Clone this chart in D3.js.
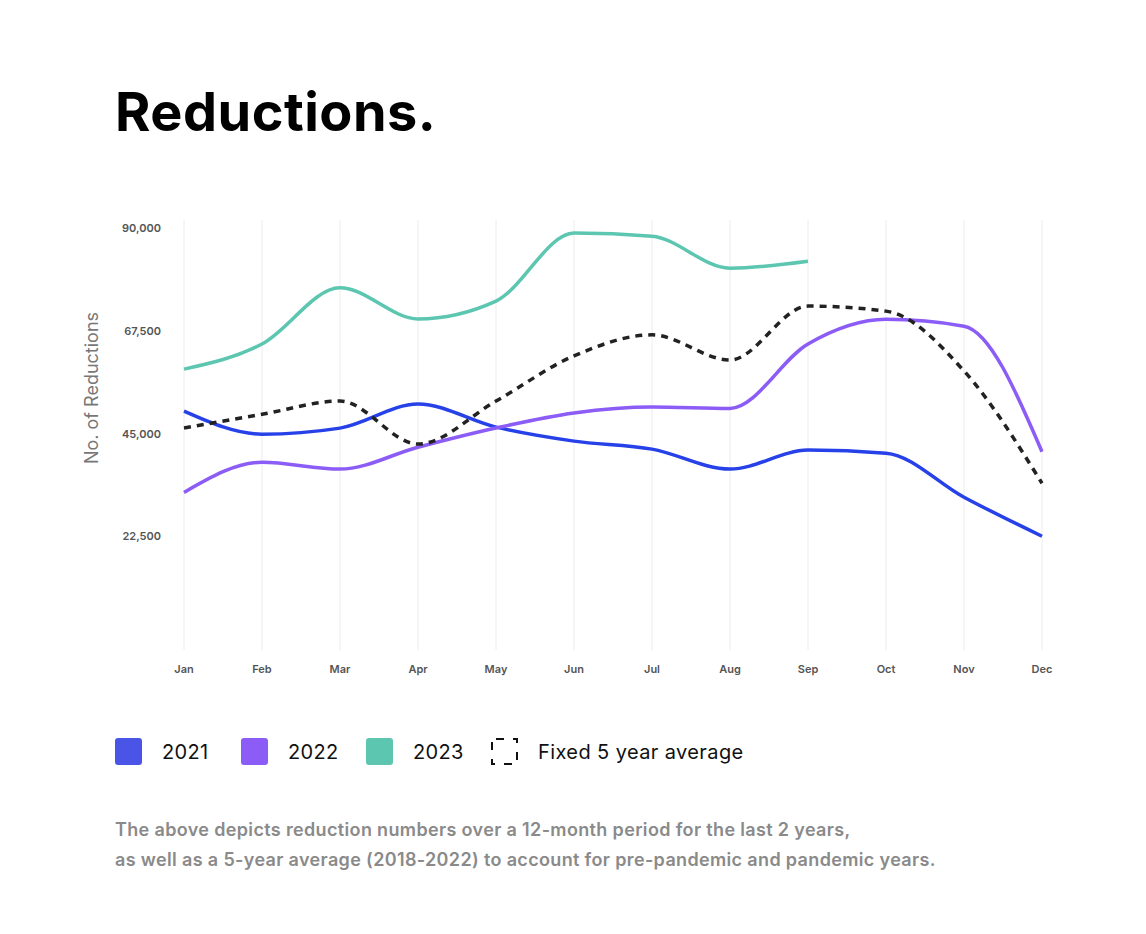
<!DOCTYPE html>
<html><head><meta charset="utf-8">
<script src="https://cdn.jsdelivr.net/npm/d3@7"></script>
<style>body{margin:0;background:#fff;font-family:Inter,"Noto Sans",sans-serif}</style>
</head><body><svg id="c" width="1146" height="934"></svg>
<script>
const months=["Jan","Feb","Mar","Apr","May","Jun","Jul","Aug","Sep","Oct","Nov","Dec"];
const yTicks=[22500,45000,67500,90000];
const s2021=[49900,44860,46180,51440,46400,43330,41580,37200,41360,40700,31050,22500];
const s2022=[32100,38700,37200,42000,46200,49500,50800,50500,64600,70000,68500,41000];
const s2023=[59100,64600,76900,70100,74000,88900,88200,81200,82700];
const sAvg=[46200,49200,52100,42700,52100,62000,66600,61100,72900,71800,58700,34100];
const svg=d3.select("#c");
const x=d3.scalePoint().domain(months).range([184,1042]);
const y=d3.scaleLinear().domain([0,90000]).range([639,228]);
svg.append("text").attr("x",115).attr("y",131).attr("font-size",54).attr("font-weight",700).attr("fill","#000").attr("letter-spacing",0.5).text("Reductions.");
svg.append("g").selectAll("line").data(months).join("line").attr("x1",d=>x(d)).attr("x2",d=>x(d)).attr("y1",220).attr("y2",650).attr("stroke","#ececec");
svg.append("g").selectAll("text").data(months).join("text").attr("x",d=>x(d)).attr("y",673).attr("text-anchor","middle").attr("font-size",11).attr("font-weight",600).attr("fill","#555").text(d=>d);
svg.append("g").selectAll("text").data(yTicks).join("text").attr("x",161).attr("y",d=>y(d)+4).attr("text-anchor","end").attr("font-size",11).attr("font-weight",600).attr("fill","#555").text(d3.format(","));
svg.append("text").attr("transform","translate(98,388) rotate(-90)").attr("text-anchor","middle").attr("font-size",18).attr("fill","#777").text("No. of Reductions");
const line=d3.line().x((d,i)=>x(months[i])).y(d=>y(d)).curve(d3.curveMonotoneX);
[[s2021,"#2641e8",null],[s2022,"#8b5cf6",null],[s2023,"#5cc6b0",null],[sAvg,"#222","7,6"]].forEach(([d,c,da])=>{
 svg.append("path").attr("d",line(d)).attr("fill","none").attr("stroke",c).attr("stroke-width",3.5).attr("stroke-dasharray",da);
});
const leg=[["2021","#4a55e8",115],["2022","#8b5cf6",241],["2023","#5cc6b0",366]];
leg.forEach(([t,c,lx])=>{
 svg.append("rect").attr("x",lx).attr("y",738).attr("width",27).attr("height",27).attr("rx",3).attr("fill",c);
 svg.append("text").attr("x",lx+47).attr("y",759).attr("font-size",20).attr("letter-spacing",0.3).attr("fill","#111").text(t);
});
svg.append("rect").attr("x",492).attr("y",739).attr("width",25).attr("height",25).attr("fill","none").attr("stroke","#111").attr("stroke-width",2).attr("stroke-dasharray","8,9").attr("stroke-dashoffset",-4);
svg.append("text").attr("x",538).attr("y",759).attr("font-size",20).attr("letter-spacing",0.4).attr("fill","#111").text("Fixed 5 year average");
["The above depicts reduction numbers over a 12-month period for the last 2 years,","as well as a 5-year average (2018-2022) to account for pre-pandemic and pandemic years."].forEach((t,i)=>{
 svg.append("text").attr("x",115).attr("y",836+i*30).attr("font-size",18).attr("letter-spacing",0.35).attr("font-weight",600).attr("fill","#8a8a8a").text(t);
});
</script></body></html>
